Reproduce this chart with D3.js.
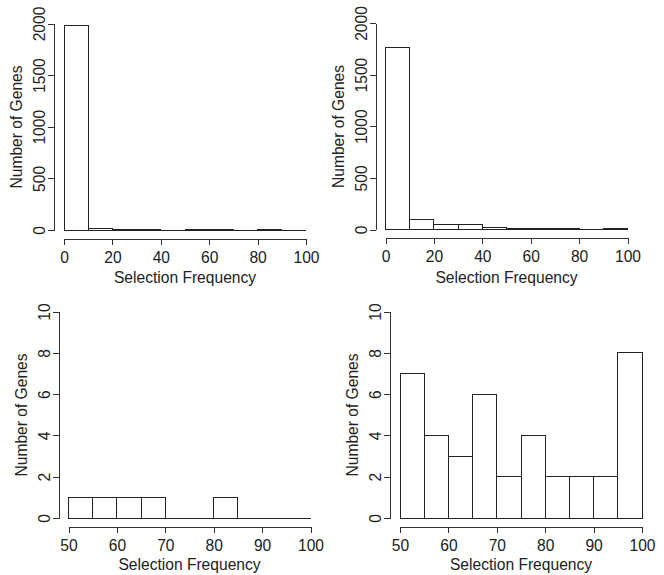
<!DOCTYPE html>
<html>
<head>
<meta charset="utf-8">
<script src="https://cdn.jsdelivr.net/npm/d3@7"></script>
<style>
  body { margin: 0; background: #fff; }
  svg { display: block; font-family: "Liberation Sans", Arial, sans-serif; }
  .axis path, .axis line { stroke: #333; stroke-width: 1; shape-rendering: crispEdges; }
  .axis text { fill: #222; font-size: 15.6px; }
  .bar { fill: #fff; stroke: #222; stroke-width: 1; shape-rendering: crispEdges; }
  .title { fill: #222; font-size: 15.6px; }
</style>
</head>
<body>
<svg id="chart" width="664" height="575"></svg>
<script>
// bin edges, bin width and counts for each panel
const fullBins = [0, 10, 20, 30, 40, 50, 60, 70, 80, 90];
const fullWidth = 10;
const fullTicksX = [0, 20, 40, 60, 80, 100];
const fullTicksY = [0, 500, 1000, 1500, 2000];

const highBins = [50, 55, 60, 65, 70, 75, 80, 85, 90, 95];
const highWidth = 5;
const highTicksX = [50, 60, 70, 80, 90, 100];
const highTicksY = [0, 2, 4, 6, 8, 10];

const countsTopLeft = [1982, 10, 5, 1, 0, 2, 2, 0, 1, 0];
const countsTopRight = [1762, 97, 46, 50, 16, 11, 9, 6, 4, 10];
const countsBottomLeft = [1, 1, 1, 1, 0, 0, 1, 0, 0, 0];
const countsBottomRight = [7, 4, 3, 6, 2, 4, 2, 2, 2, 8];

const svg = d3.select("#chart");

function drawHist(p) {
    const x = d3.scaleLinear().domain(p.xDomain).range([p.left, p.left + 242]);
    const y = d3.scaleLinear().domain(p.yDomain).range([p.bottom, p.bottom - 206.5]);
    const g = svg.append("g");

    // bars as closed paths so empty bins still leave their baseline
    g.selectAll(".bar")
        .data(p.bins.map((b, i) => ({ x0: b, x1: b + p.width, n: p.counts[i] })))
        .enter().append("path")
        .attr("class", "bar")
        .attr("d", d => {
            const path = d3.path();
            path.moveTo(x(d.x0), y(0));
            path.lineTo(x(d.x0), y(d.n));
            path.lineTo(x(d.x1), y(d.n));
            path.lineTo(x(d.x1), y(0));
            path.closePath();
            return path.toString();
        });

    // x axis, offset below the bars (R style)
    const xa = g.append("g")
        .attr("class", "axis")
        .attr("transform", `translate(0,${p.bottom + 8.5})`)
        .call(d3.axisBottom(x).tickValues(p.ticksX).tickSize(6).tickSizeOuter(0).tickFormat(d3.format("d")));
    xa.selectAll("text").attr("y", 0).attr("dy", "1.55em");

    // y axis, offset left of the bars, rotated labels
    const ya = g.append("g")
        .attr("class", "axis")
        .attr("transform", `translate(${p.left - 10},0)`)
        .call(d3.axisLeft(y).tickValues(p.ticksY).tickSize(6).tickSizeOuter(0).tickFormat(d3.format("d")));
    ya.selectAll("text")
        .attr("transform", "rotate(-90)")
        .attr("x", 0).attr("y", -14).attr("dy", "0.35em")
        .attr("text-anchor", "middle");

    g.append("text")
        .attr("class", "title")
        .attr("x", p.left + 121)
        .attr("y", p.bottom + p.titleDy)
        .attr("text-anchor", "middle")
        .text("Selection Frequency");

    g.append("text")
        .attr("class", "title")
        .attr("transform", `translate(${p.left - 47},${p.bottom - 103}) rotate(-90)`)
        .attr("text-anchor", "middle")
        .attr("dy", "0.35em")
        .text("Number of Genes");
}

drawHist({ left: 64, bottom: 230, xDomain: [0, 100], yDomain: [0, 2000], bins: fullBins, width: fullWidth,
    counts: countsTopLeft, ticksX: fullTicksX, ticksY: fullTicksY, titleDy: 53 });
drawHist({ left: 385.5, bottom: 229.5, xDomain: [0, 100], yDomain: [0, 2000], bins: fullBins, width: fullWidth,
    counts: countsTopRight, ticksX: fullTicksX, ticksY: fullTicksY, titleDy: 53 });
drawHist({ left: 68.5, bottom: 518, xDomain: [50, 100], yDomain: [0, 10], bins: highBins, width: highWidth,
    counts: countsBottomLeft, ticksX: highTicksX, ticksY: highTicksY, titleDy: 52 });
drawHist({ left: 400, bottom: 518, xDomain: [50, 100], yDomain: [0, 10], bins: highBins, width: highWidth,
    counts: countsBottomRight, ticksX: highTicksX, ticksY: highTicksY, titleDy: 52 });
</script>
</body>
</html>
